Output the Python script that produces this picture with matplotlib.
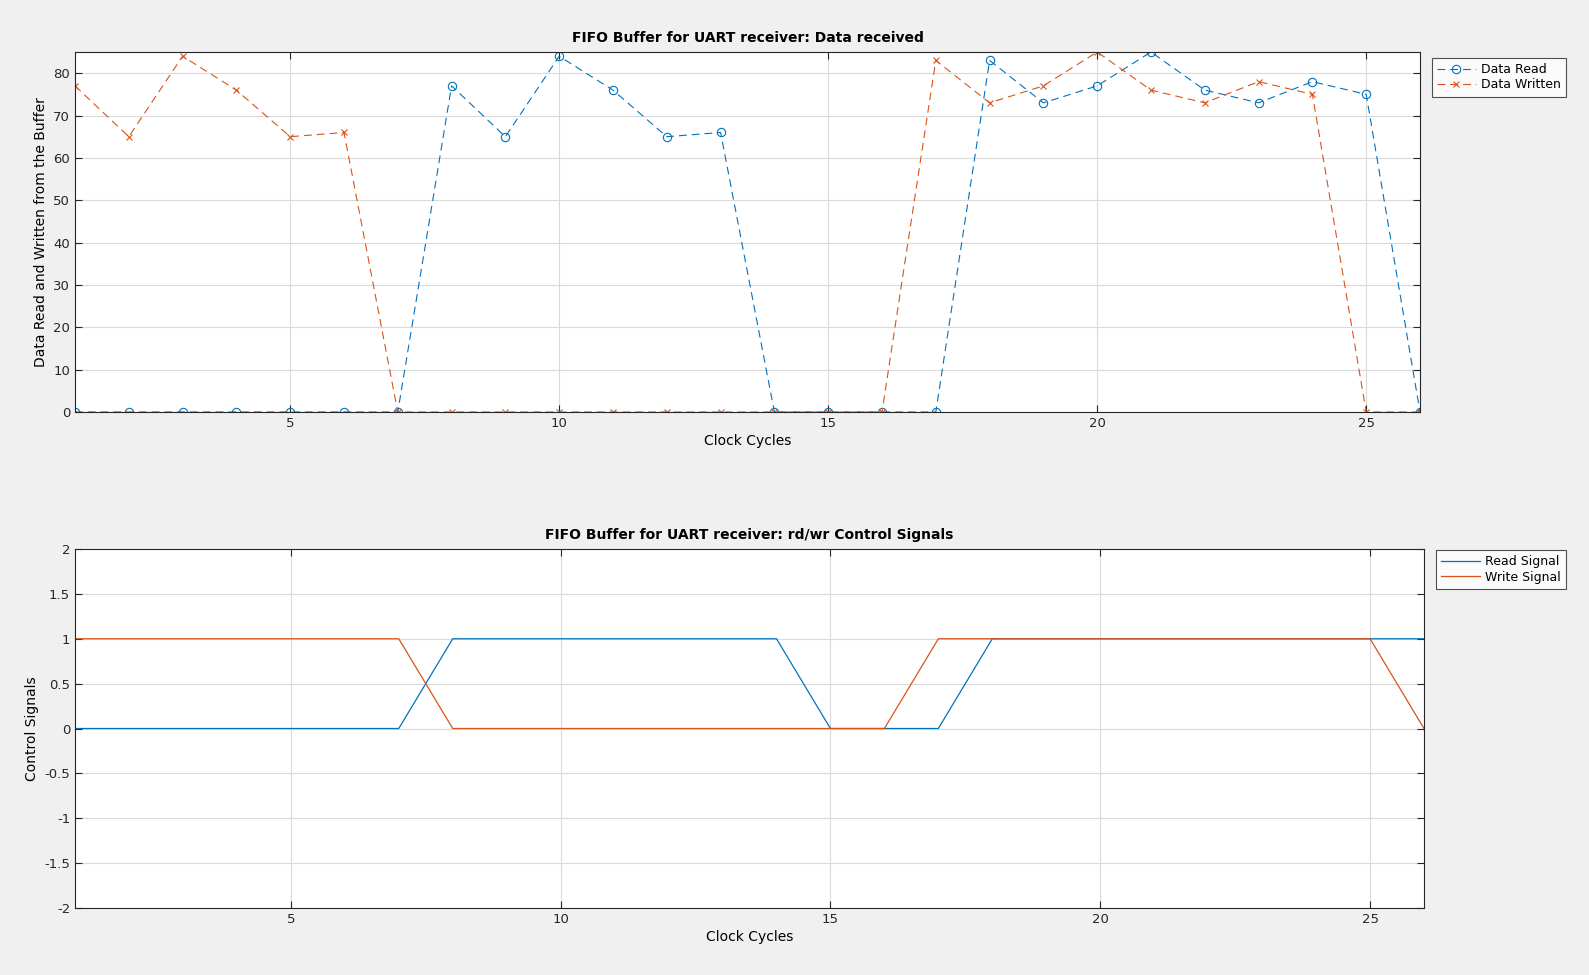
import matplotlib
matplotlib.use("Agg")
import matplotlib.pyplot as plt
import numpy as np

# clock cycles and buffer data
cycles = np.arange(1, 27)
data_read = [0, 0, 0, 0, 0, 0, 0, 77, 65, 84, 76, 65, 66, 0, 0, 0, 0,
             83, 73, 77, 85, 76, 73, 78, 75, 0]
data_written = [77, 65, 84, 76, 65, 66, 0, 0, 0, 0, 0, 0, 0, 0, 0, 0,
                83, 73, 77, 85, 76, 73, 78, 75, 0, 0]

# control signals
read_signal = [0, 0, 0, 0, 0, 0, 0, 1, 1, 1, 1, 1, 1, 1, 0, 0, 0,
               1, 1, 1, 1, 1, 1, 1, 1, 1]
write_signal = [1, 1, 1, 1, 1, 1, 1, 0, 0, 0, 0, 0, 0, 0, 0, 0,
                1, 1, 1, 1, 1, 1, 1, 1, 1, 0]

BLUE = "#0072BD"
ORANGE = "#D95319"
W, H = 1589, 975
DASH = (0, (7, 4.5))  # matlab-like '--'

plt.rcParams['font.family'] = ['DejaVu Sans']
plt.rcParams['font.size'] = 9.5

fig = plt.figure(figsize=(W / 100, H / 100), dpi=100, facecolor="#f0f0f0")


def px_axes(left, top, right, bottom):
    return fig.add_axes([left / W, 1 - bottom / H, (right - left) / W,
                         (bottom - top) / H])


def style_axes(ax):
    ax.set_facecolor("white")
    ax.grid(True, color="#dadada", linewidth=0.8)
    ax.set_axisbelow(True)
    ax.tick_params(direction="in", top=True, right=True, length=5,
                   width=0.8, colors="#262626", labelsize=9.5)
    for s in ax.spines.values():
        s.set_color("#262626")
        s.set_linewidth(0.8)


def add_legend(ax, x0, y0):
    # x0, y0: upper left corner of legend box in figure pixels
    leg = ax.legend(loc="upper left", bbox_to_anchor=(x0 / W, 1 - y0 / H),
                    bbox_transform=fig.transFigure,
                    fontsize=9, frameon=True, fancybox=False,
                    edgecolor="#262626", borderpad=0.4, labelspacing=0.2,
                    handlelength=3.1, handletextpad=0.4, borderaxespad=0)
    leg.get_frame().set_linewidth(0.8)
    return leg


# top panel
ax1 = px_axes(75, 52, 1420, 412)
ax1.plot(cycles, data_read, linestyle=DASH, marker="o", color=BLUE,
         linewidth=0.8, markersize=6, markerfacecolor="none",
         markeredgewidth=0.8, label="Data Read")
ax1.plot(cycles, data_written, linestyle=DASH, marker="x", color=ORANGE,
         linewidth=0.8, markersize=5, markeredgewidth=0.8,
         label="Data Written")
ax1.set_xlim(1, 26)
ax1.set_ylim(0, 85)
ax1.set_xticks([5, 10, 15, 20, 25])
ax1.set_yticks(np.arange(0, 81, 10))
style_axes(ax1)
ax1.set_title("FIFO Buffer for UART receiver: Data received",
              fontweight="bold", fontsize=10, pad=7)
ax1.set_xlabel("Clock Cycles", fontsize=10, labelpad=3)
ax1.set_ylabel("Data Read and Written from the Buffer", fontsize=10)
add_legend(ax1, 1432, 58)

# bottom panel
ax2 = px_axes(75, 549, 1424, 908)
ax2.plot(cycles, read_signal, "-", color=BLUE, linewidth=0.9,
         label="Read Signal")
ax2.plot(cycles, write_signal, "-", color=ORANGE, linewidth=0.9,
         label="Write Signal")
ax2.set_xlim(1, 26)
ax2.set_ylim(-2, 2)
ax2.set_xticks([5, 10, 15, 20, 25])
ax2.set_yticks(np.arange(-2, 2.01, 0.5))
ax2.set_yticklabels(["-2", "-1.5", "-1", "-0.5", "0", "0.5", "1", "1.5", "2"])
style_axes(ax2)
ax2.set_title("FIFO Buffer for UART receiver: rd/wr Control Signals",
              fontweight="bold", fontsize=10, pad=7)
ax2.set_xlabel("Clock Cycles", fontsize=10, labelpad=3)
ax2.set_ylabel("Control Signals", fontsize=10)
add_legend(ax2, 1436, 550)

fig.savefig("out.png", dpi=100, facecolor=fig.get_facecolor())
